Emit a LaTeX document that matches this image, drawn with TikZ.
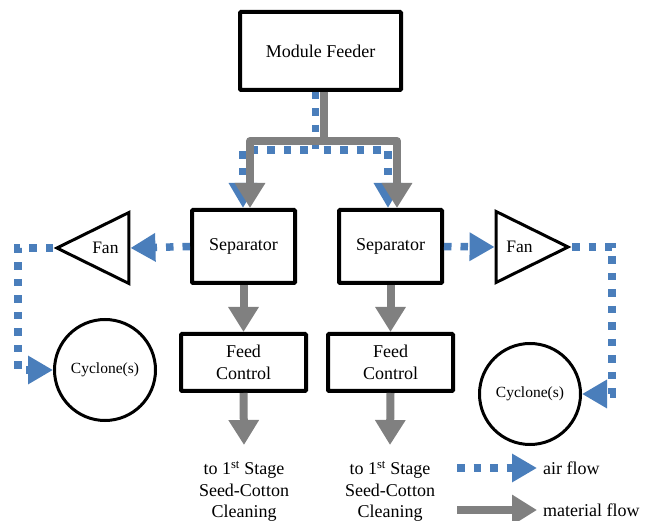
\documentclass[tikz,border=0pt]{standalone}
\usepackage{fontspec}
\setmainfont{Liberation Serif}
\usetikzlibrary{arrows.meta,shapes.geometric}
\definecolor{airblue}{RGB}{74,126,187}
\definecolor{matgray}{RGB}{128,128,128}
\begin{document}
\begin{tikzpicture}[x=1pt,y=-1pt,
  box/.style={draw=black, line width=4pt, rounded corners=1pt, fill=white, align=center, inner sep=0pt, font=\fontsize{18}{21.5}\selectfont},
  fan/.style={draw=black, line width=3pt, isosceles triangle, isosceles triangle stretches, minimum height=72pt, minimum width=71pt, inner sep=0pt, font=\fontsize{17.5}{21}\selectfont},
  cyc/.style={draw=black, line width=3pt, circle, minimum size=101pt, inner sep=0pt, font=\fontsize{15.5}{18}\selectfont},
  lbl/.style={align=center, inner sep=0pt, font=\fontsize{18}{21.5}\selectfont},
  air/.style={draw=airblue, line width=7.5pt, dash pattern=on 7.5pt off 9pt, -{Triangle[length=25pt,width=27pt]}},
  mat/.style={draw=matgray, line width=8pt, line join=round, -{Triangle[length=25pt,width=29pt]}}]
\useasboundingbox (0,0) rectangle (662,521);
% boxes
\node [box, minimum width=161pt, minimum height=78pt] (feeder) at (320.5,51) {Module Feeder};
\node [box, minimum width=103pt, minimum height=73pt] (sepL) at (243.5,246.5) {Separator};
\node [box, minimum width=103pt, minimum height=73pt] (sepR) at (390.5,246.5) {Separator};
\node [box, minimum width=125pt, minimum height=57pt] (fcL) at (243.5,362.5) {Feed\\Control};
\node [box, minimum width=125pt, minimum height=57pt] (fcR) at (390.5,362.5) {Feed\\Control};
% fans and cyclones
\node [fan, shape border rotate=180, anchor=apex] (fanL) at (53,248) {Fan};
\node [fan, anchor=apex] (fanR) at (572,247) {Fan};
\node [cyc] (cycL) at (105,370) {Cyclone(s)};
\node [cyc] (cycR) at (530,394) {Cyclone(s)};
% outlet labels
\node [lbl, anchor=north] (toL) at (244,461) {to 1\textsuperscript{st} Stage\\Seed-Cotton\\Cleaning};
\node [lbl, anchor=north] (toR) at (390,461) {to 1\textsuperscript{st} Stage\\Seed-Cotton\\Cleaning};
% air flow
\draw [air] ([xshift=-5pt]feeder.south) -- ++(0,58) -| ([xshift=-0.5pt]sepL.north);
\draw [air] ([xshift=-5pt]feeder.south) -- ++(0,58) -| ([xshift=-2.5pt]sepR.north);
\draw [air] (sepL.west) -- (fanL.east);
\draw [air] (sepR.east) -- (fanR.west);
\coordinate (airL) at (18,248);
\coordinate (airR) at (612,247);
\draw [air] (fanL.apex) -- (airL) |- (cycL.west);
\draw [air] (fanR.apex) -- (airR) |- (cycR.east);
% material flow
\draw [mat] ([xshift=3.5pt]feeder.south) -- ++(0,49) -| ([xshift=6.5pt]sepL.north);
\draw [mat] ([xshift=3.5pt]feeder.south) -- ++(0,49) -| ([xshift=6.5pt]sepR.north);
\draw [mat] (sepL.south) -- (fcL.north);
\draw [mat] (sepR.south) -- (fcR.north);
\draw [mat] (fcL.south) -- ([yshift=16pt]toL.north);
\draw [mat] (fcR.south) -- ([yshift=16pt]toR.north);
% legend
\coordinate (airA) at (457,468);
\coordinate (matA) at (457,510);
\node [lbl, anchor=west, inner xsep=6pt] (airT) at (537,468) {air flow};
\node [lbl, anchor=west, inner xsep=6pt] (matT) at (537,510) {material flow};
\draw [air] (airA) -- (airT.west);
\draw [mat] (matA) -- (matT.west);
\end{tikzpicture}
\end{document}
